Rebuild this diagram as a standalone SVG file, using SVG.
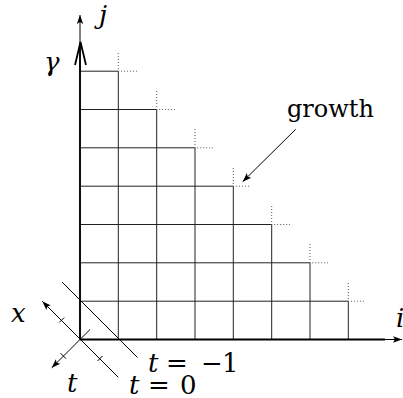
<svg xmlns="http://www.w3.org/2000/svg" width="403" height="398" viewBox="0 0 403 398">
<style>
.g{stroke:#222;stroke-width:1;fill:none}
.d{stroke:#555;stroke-width:1;stroke-dasharray:1 2;fill:none}
.ax{stroke:#000;stroke-width:1;fill:none}
.th{stroke:#000;stroke-width:1.8;fill:none}
.t{font-family:"DejaVu Serif","Liberation Serif",serif;font-size:26px;fill:#000}
.it{font-style:italic}
</style>
<defs>
<marker id="ah" markerUnits="userSpaceOnUse" markerWidth="10" markerHeight="8" refX="9" refY="4" orient="auto">
<path d="M0,0.8 L9,4 L0,7.2 L2,4 Z" fill="#000"/>
</marker>
</defs>
<g id="grid">
<path class="g" d="M80,71.2H118.3M80,109.5H156.7M80,147.8H195M80,186.2H233.3M80,224.5H271.7M80,262.8H310M80,301.2H348.3"/>
<path class="g" d="M118.3,71.2V339.5M156.7,109.5V339.5M195,147.8V339.5M233.3,186.2V339.5M271.7,224.5V339.5M310,262.8V339.5M348.3,301.2V339.5"/>
</g>
<g id="growth-front">
<path class="d" d="M118.3,53V71.2H137M156.7,91V109.5H175M195,129V147.8H213M233.3,168V186.2H251M271.7,206V224.5H290M310,244V262.8H328M348.3,283V301.2H366"/>
</g>
<g id="connectors">
<path class="ax" d="M80,339.5V15" marker-end="url(#ah)"/>
<path class="th" d="M80,339.5V43"/>
<path class="th" d="M75,65L80.5,42L86,65"/>
<path class="ax" d="M80,339.5H402" marker-end="url(#ah)"/>
<path class="th" d="M80,339.5H385"/>
<path class="ax" d="M295.7,129.3L242.7,181.7" marker-end="url(#ah)"/>
<path class="ax" d="M118.3,377.3L42.3,301.3" marker-end="url(#ah)"/>
<path class="ax" d="M90,329.5L51.7,367.8" marker-end="url(#ah)"/>
<path class="ax" d="M62,282L137.5,357.5"/>
<path class="ax" d="M64.2,317.5L59.2,322.5M102.5,356L97.5,361M60.5,353.2L66,358.7"/>
</g>
<g id="labels">
<text class="t it" x="99" y="24">j</text>
<text class="t it" x="44" y="71">γ</text>
<text class="t it" x="396" y="327">i</text>
<text class="t it" x="11" y="322">x</text>
<text class="t it" x="67" y="392">t</text>
<text class="t" x="287" y="117" style="font-size:24px">growth</text>
<text class="t" y="372"><tspan class="it" x="148">t</tspan><tspan x="166">=</tspan><tspan x="201">−</tspan><tspan x="222">1</tspan></text>
<text class="t" y="394"><tspan class="it" x="129">t</tspan><tspan x="148">=</tspan><tspan x="180">0</tspan></text>
</g>
</svg>
